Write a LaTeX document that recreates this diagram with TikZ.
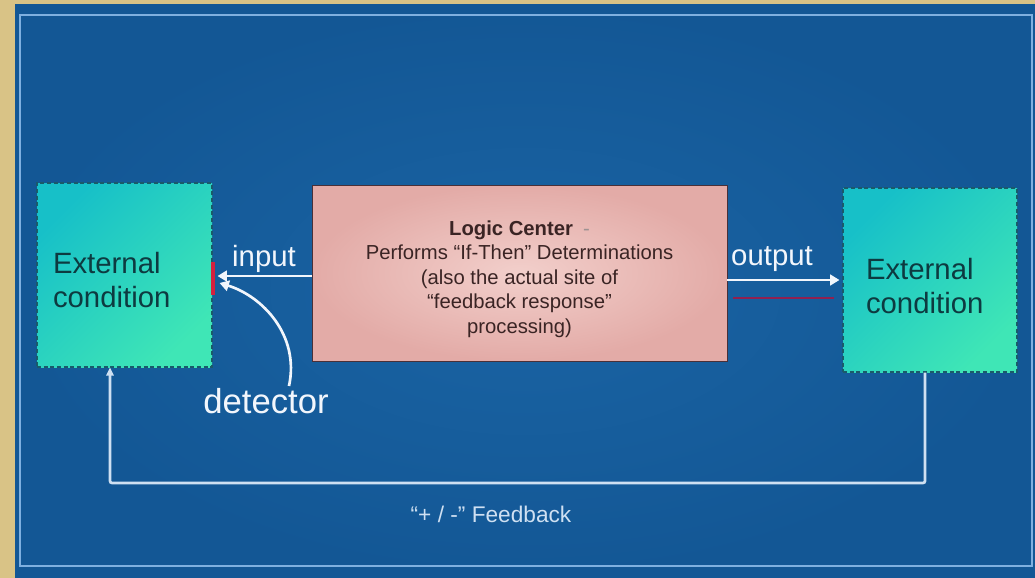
\documentclass[tikz,border=0pt]{standalone}
\usepackage{fontspec}
\setmainfont{Liberation Sans}
\usetikzlibrary{arrows.meta,calc}
\definecolor{gold}{HTML}{D9C386}
\definecolor{bgblue}{HTML}{135795}
\definecolor{bginner}{HTML}{1A64A4}
\definecolor{framecol}{HTML}{7FB0E0}
\definecolor{tealA}{HTML}{17C0C8}
\definecolor{tealB}{HTML}{3FE6B6}
\definecolor{tealedge}{HTML}{1A5A6A}
\definecolor{tealtext}{HTML}{0D3A40}
\definecolor{pinkA}{HTML}{F2CFCB}
\definecolor{pinkB}{HTML}{E3ABA7}
\definecolor{pinkedge}{HTML}{4A3038}
\definecolor{logictext}{HTML}{3A2424}
\definecolor{linewhite}{HTML}{F2F6FC}
\definecolor{fbcol}{HTML}{CFE0F2}
\definecolor{redmark}{HTML}{D4203E}
\definecolor{purpline}{HTML}{902050}
\tikzset{
  extbox/.style={draw=tealedge, densely dashed, line width=0.8pt,
    top color=tealA, bottom color=tealB, shading angle=45,
    text=tealtext, align=left, inner ysep=0pt,
    font=\fontsize{22}{25.5}\selectfont},
  logicbox/.style={draw=pinkedge, line width=0.6pt,
    inner color=pinkA, outer color=pinkB,
    minimum width=311.25pt, minimum height=132pt,
    text=logictext, align=center,
    font=\fontsize{15.2}{18.4}\selectfont},
  flowarrow/.style={draw=linewhite, line width=2.2pt,
    -{Triangle[length=7pt,width=8pt]}},
  arrowlabel/.style={text=linewhite, font=\fontsize{22}{24}\selectfont, inner sep=0pt},
  fbline/.style={draw=fbcol, line width=2pt, rounded corners=1.5pt,
    -{Triangle[length=6pt,width=5.5pt]}},
}
\begin{document}
\begin{tikzpicture}[x=0.75pt,y=-0.75pt]
\useasboundingbox (0,0) rectangle (1035,578);
% background
\fill[gold] (0,0) rectangle (1035,578);
\shade[inner color=bginner, outer color=bgblue] (15,4) rectangle (1035,578);
\draw[framecol, line width=1.5pt] (20,15) rectangle (1032,566);

% boxes
\node[extbox, minimum width=131.25pt, minimum height=138pt,
      inner xsep=12pt, text width=107.25pt] (L) at (124.5,275)
      {\rule{0pt}{23.5pt}External\\condition};
\node[extbox, minimum width=130.5pt, minimum height=138pt,
      inner xsep=17.25pt, text width=96pt] (R) at (930,280)
      {\rule{0pt}{25pt}External\\condition};
\node[logicbox] (C) at (519.5,273)
  {\rule{0pt}{20pt}\textbf{Logic Center}\enspace{\color{logictext!50}-}\\
   Performs “If-Then” Determinations\\
   (also the actual site of\\
   “feedback response”\\
   processing)};

% input arrow
\coordinate (inEnd) at ($(L.east)+(5,1)$);
\draw[flowarrow] (C.west |- inEnd) -- (inEnd);
\node[arrowlabel] (inLab) at (264,259) {input};

% detector mark
\draw[redmark, line width=3pt] ($(L.east)+(0,-13)$) -- ($(L.east)+(0,20)$);

% output arrow
\coordinate (outEnd) at ($(R.west)+(-3,0)$);
\draw[flowarrow] (C.east |- outEnd) -- (outEnd);
\node[arrowlabel] (outLab) at (772,259) {output};

% purple line
\coordinate (pEnd) at ($(R.west)+(-8,18)$);
\draw[purpline, line width=1.6pt] ($(C.east |- pEnd)+(6,0)$) -- (pEnd);

% detector label and curved arrow
\node[text=linewhite, font=\fontsize{26}{28}\selectfont, inner sep=0pt] (det) at (266,401) {detector};
\coordinate (detTip) at ($(L.east)+(7,8)$);
\draw[draw=linewhite, line width=2pt, -{Triangle[length=7pt,width=8pt]}]
  ($(det.north)+(23,-2)$) .. controls (300,335) and (262,296) .. (detTip);

% feedback loop
\coordinate (fbR) at (925,483);
\coordinate (fbL) at (110,483);
\draw[fbline] ($(R.south)+(-5,0)$) -- (fbR) -- (fbL) -- (fbL |- L.south);
\node[text=fbcol, font=\fontsize{17}{19}\selectfont, inner sep=0pt] (fbLab) at (491,514) {“+ / -” Feedback};
\end{tikzpicture}
\end{document}
